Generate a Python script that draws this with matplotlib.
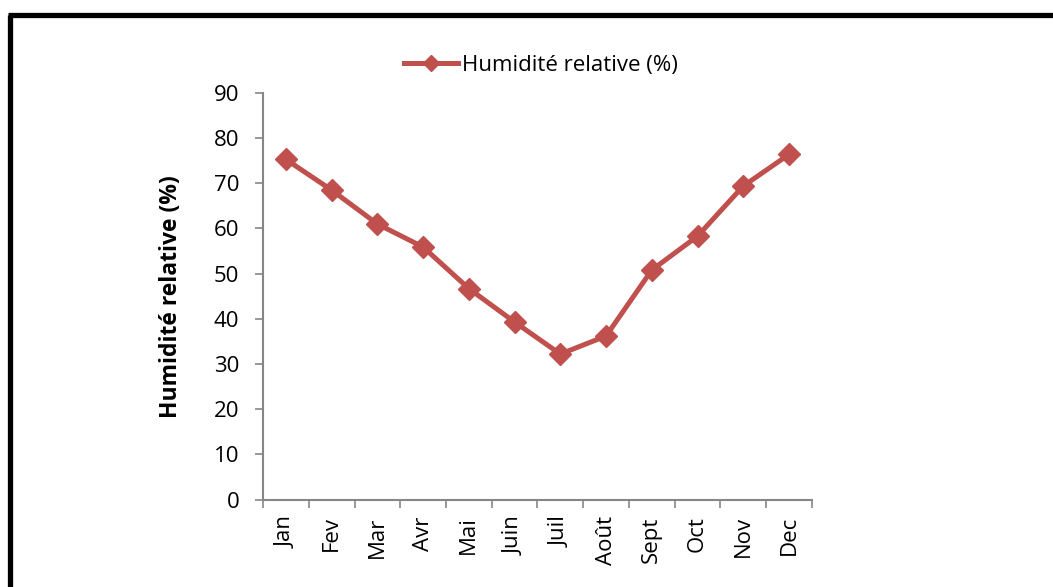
"""Relative humidity by month, Excel-style line chart."""
import numpy as np
import matplotlib
matplotlib.use("Agg")
import matplotlib.pyplot as plt
from matplotlib.lines import Line2D

MONTHS = ["Jan", "Fev", "Mar", "Avr", "Mai", "Juin", "Juil", "Août",
          "Sept", "Oct", "Nov", "Dec"]
HUMIDITY = [75.3, 68.5, 61.0, 55.9, 46.7, 39.3, 32.2, 36.2, 50.8, 58.3, 69.4, 76.4]
YTICKS = list(range(0, 100, 10))
SERIES_LABEL = "Humidité relative (%)"

RED = "#C0504D"
GREY = "#868686"
FS = 16

plt.rcParams["font.family"] = ["Open Sans", "DejaVu Sans"]

fig = plt.figure(figsize=(10.53, 5.87), dpi=100)
ax = fig.add_axes([0.2498, 0.149, 0.771 - 0.2498, 0.8416 - 0.149])

x = np.arange(len(MONTHS))
ax.plot(x, HUMIDITY, color=RED, lw=3.6, marker="D", ms=11.5, mec=RED, mfc=RED,
        label=SERIES_LABEL)

ax.set_xlim(-0.5, len(MONTHS) - 0.5)
ax.set_ylim(0, 90)
ax.set_yticks(YTICKS)
ax.set_yticklabels([str(v) for v in YTICKS], fontsize=FS)

# category labels centered, tick marks on the category boundaries
ax.set_xticks(x)
ax.set_xticklabels(MONTHS, rotation=90, fontsize=FS)
ax.tick_params(axis="x", which="major", length=0, pad=12)
ax.set_xticks(np.arange(-0.5, len(MONTHS)), minor=True)
ax.tick_params(axis="x", which="minor", length=6, width=1.2, color=GREY)
ax.tick_params(axis="y", length=6, width=1.2, color=GREY, pad=11)

for s in ["top", "right"]:
    ax.spines[s].set_visible(False)
for s in ["left", "bottom"]:
    ax.spines[s].set_color(GREY)
    ax.spines[s].set_linewidth(1.5)

ax.set_ylabel(SERIES_LABEL, fontsize=16.5, fontweight="bold", labelpad=22)

handle = Line2D([], [], color=RED, lw=3.6, marker="D", ms=8, mec=RED, mfc=RED)
ax.legend([handle], [SERIES_LABEL], loc="center", bbox_to_anchor=(0.514, 0.888),
          bbox_transform=fig.transFigure, frameon=False, fontsize=FS,
          handlelength=2.4, handletextpad=0.2)

# page frame (top and left edges)
top_y = 1 - 14.5 / 587
fig.add_artist(Line2D([7.5 / 1053, 1], [top_y, top_y],
                      transform=fig.transFigure, color="black", lw=3.8,
                      solid_capstyle="butt"))
fig.add_artist(Line2D([10 / 1053, 10 / 1053], [0, top_y],
                      transform=fig.transFigure, color="black", lw=3.8,
                      solid_capstyle="butt"))

fig.savefig("out.png", dpi=100)
